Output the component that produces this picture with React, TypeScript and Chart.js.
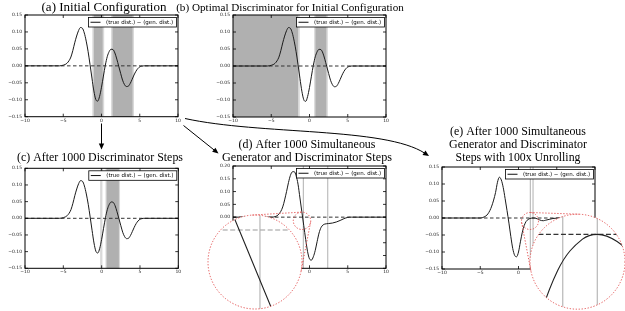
import React, { useEffect, useRef } from "react";
import { Chart, registerables } from "chart.js";
Chart.register(...registerables);

const W = 625;
const H = 311;
const LEGEND_LABEL = "(true dist.) \u2212 (gen. dist.)";

// ---------- data ----------
const X_INIT = [-10, -5.5, -5, -4.75, -4.5, -4.25, -4, -3.75, -3.5, -3.25, -3, -2.75, -2.5, -2.25, -2, -1.75, -1.5, -1.25, -1, -0.75, -0.5, -0.25, 0, 0.25, 0.5, 0.75, 1, 1.25, 1.5, 1.75, 2, 2.25, 2.5, 2.75, 3, 3.25, 3.5, 3.75, 4, 4.25, 4.5, 4.75, 5, 5.25, 5.5, 10];
const Y_INIT = [0, 0, 0.002, 0.004, 0.008, 0.015, 0.026, 0.045, 0.068, 0.088, 0.104, 0.113, 0.111, 0.097, 0.073, 0.042, 0.004, -0.036, -0.074, -0.099, -0.104, -0.09, -0.063, -0.03, 0.002, 0.027, 0.042, 0.049, 0.048, 0.038, 0.02, -0.001, -0.022, -0.042, -0.055, -0.061, -0.06, -0.052, -0.04, -0.027, -0.016, -0.008, -0.003, -0.001, 0, 0];

const X_D = [-10, -5, -4.5, -4, -3.5, -3, -2.75, -2.5, -2.25, -2, -1.75, -1.5, -1.25, -1, -0.75, -0.5, -0.25, 0, 0.25, 0.5, 0.75, 1, 1.25, 1.5, 1.75, 2, 2.5, 3, 3.5, 4, 4.5, 5, 5.5, 10];
const Y_D = [0, 0, 0.002, 0.012, 0.04, 0.1, 0.135, 0.163, 0.177, 0.178, 0.162, 0.129, 0.075, 0.021, -0.033, -0.087, -0.135, -0.163, -0.168, -0.155, -0.13, -0.095, -0.062, -0.041, -0.031, -0.027, -0.025, -0.023, -0.019, -0.013, -0.006, -0.001, 0, 0];

const X_E = [-10, -5, -4.5, -4, -3.5, -3, -2.75, -2.5, -2.25, -2, -1.75, -1.5, -1.25, -1, -0.75, -0.5, -0.25, 0, 0.25, 0.5, 0.75, 1, 1.25, 1.5, 1.75, 1.9, 2.1, 2.25, 2.5, 2.75, 3, 3.25, 3.5, 4, 4.5, 5, 5.5, 10];
const Y_E = [0, 0, 0.003, 0.012, 0.035, 0.075, 0.105, 0.12, 0.112, 0.09, 0.057, 0.022, -0.015, -0.055, -0.09, -0.11, -0.114, -0.1, -0.07, -0.042, -0.022, -0.01, -0.0045, -0.0015, -0.0002, 0, -0.0003, -0.0009, -0.0028, -0.0055, -0.0075, -0.008, -0.0068, -0.004, -0.0015, -0.0004, 0, 0];

const X_TICKS = [-10, -5, 0, 5, 10];
const Y_TICKS_15 = [-0.15, -0.1, -0.05, 0, 0.05, 0.1, 0.15];
const Y_TICKS_20 = [-0.2, -0.15, -0.1, -0.05, 0, 0.05, 0.1, 0.15, 0.2];

// discriminator regions
const DARK_A = [[-1.0, 0.15], [1.45, 4.05]];
const LIGHT_A = [[-1.2, 0.35], [1.25, 4.25]];
const DARK_B = [[-10, -1.5], [0.78, 2.2]];
const LIGHT_B = [[-10, -1.27], [0.6, 2.4]];
const DARK_C = [[0.65, 2.25]];
const LIGHT_C = [[-0.2, 0.1], [0.5, 2.4]];
const VLINES_D = [-0.8, 2.38];
const VLINES_E = [1.55, 1.9];

// zoom windows of the magnified insets
const INSET_D_X = [-1.057, -0.592];
const INSET_D_Y = [-0.0349, 0.0066];
const INSET_E_X = [1.219, 2.18];
const INSET_E_Y = [-0.00312, 0.00084];

const DARK = "#b0b0b0";
const LIGHT = "#d9d9d9";
const VLINE = "#bdbdbd";
const RED = "rgba(225,70,70,0.9)";
const TICK_FONT = '4.5px "DejaVu Sans"';

type Panel = {
  area: number[];
  yMax: number;
  yTicks: number[];
  xs: number[];
  ys: number[];
  dark: number[][];
  light: number[][];
  vlines: number[];
  title: string[];
  titleW: number[];
  titleX: number;
  titleY: number[];
};

const PANELS: Panel[] = [
  { area: [25, 15, 178, 116.7], yMax: 0.15, yTicks: Y_TICKS_15, xs: X_INIT, ys: Y_INIT, dark: DARK_A, light: LIGHT_A, vlines: [], title: ["(a) Initial Configuration"], titleW: [125], titleX: 104, titleY: [11] },
  { area: [233, 15, 386, 117], yMax: 0.15, yTicks: Y_TICKS_15, xs: X_INIT, ys: Y_INIT, dark: DARK_B, light: LIGHT_B, vlines: [], title: ["(b) Optimal Discriminator for Initial Configuration"], titleW: [228], titleX: 290, titleY: [11] },
  { area: [25, 168.3, 178.3, 268.3], yMax: 0.15, yTicks: Y_TICKS_15, xs: X_INIT, ys: Y_INIT, dark: DARK_C, light: LIGHT_C, vlines: [], title: ["(c) After 1000 Discriminator Steps"], titleW: [166], titleX: 100, titleY: [160.5] },
  { area: [233, 166, 386, 268.3], yMax: 0.2, yTicks: Y_TICKS_20, xs: X_D, ys: Y_D, dark: [], light: [], vlines: VLINES_D, title: ["(d) After 1000 Simultaneous", "Generator and Discriminator Steps"], titleW: [137, 170], titleX: 307, titleY: [148, 160.5] },
  { area: [442, 167, 595, 269], yMax: 0.15, yTicks: Y_TICKS_15, xs: X_E, ys: Y_E, dark: [], light: [], vlines: VLINES_E, title: ["(e) After 1000 Simultaneous", "Generator and Discriminator", "Steps with 100x Unrolling"], titleW: [136, 138, 125], titleX: 518, titleY: [135.3, 148, 160.5] },
];

type Circle = { cx: number; cy: number; r: number };
type Inset = {
  panel: number;
  big: Circle;
  small: Circle;
  xWin: number[];
  yWin: number[];
  dashColor: string;
};

const INSETS: Inset[] = [
  { panel: 3, big: { cx: 255, cy: 262, r: 47 }, small: { cx: 302, cy: 220.8, r: 8.7 }, xWin: INSET_D_X, yWin: INSET_D_Y, dashColor: "#9a9a9a" },
  { panel: 4, big: { cx: 577.5, cy: 261.7, r: 47.5 }, small: { cx: 530, cy: 221, r: 8.5 }, xWin: INSET_E_X, yWin: INSET_E_Y, dashColor: "#333" },
];

const fmt = (v: number, d: number) => {
  const s = Math.abs(v).toFixed(d);
  return (v < -1e-9 ? "\u2212" : "") + s;
};

function toPoints(xs: number[], ys: number[]) {
  return xs.map((x, i) => ({ x, y: ys[i] }));
}

function arrowHead(ctx: CanvasRenderingContext2D, tx: number, ty: number, ang: number) {
  const L = 6, Wd = 2.7;
  const c = Math.cos(ang), s = Math.sin(ang);
  ctx.beginPath();
  ctx.moveTo(tx, ty);
  ctx.lineTo(tx - L * c + Wd * s, ty - L * s - Wd * c);
  ctx.lineTo(tx - L * c - Wd * s, ty - L * s + Wd * c);
  ctx.closePath();
  ctx.fill();
}

function drawArrows(ctx: CanvasRenderingContext2D) {
  ctx.save();
  ctx.strokeStyle = "#000";
  ctx.fillStyle = "#000";
  ctx.lineWidth = 1;
  // a -> c
  ctx.beginPath();
  ctx.moveTo(101.5, 123.5);
  ctx.lineTo(101.5, 144);
  ctx.stroke();
  arrowHead(ctx, 101.5, 149.5, Math.PI / 2);
  // a -> d
  const s0 = [183.5, 125.5], t0 = [218.5, 153.5];
  const ang = Math.atan2(t0[1] - s0[1], t0[0] - s0[0]);
  ctx.beginPath();
  ctx.moveTo(s0[0], s0[1]);
  ctx.lineTo(t0[0] - 5 * Math.cos(ang), t0[1] - 5 * Math.sin(ang));
  ctx.stroke();
  arrowHead(ctx, t0[0], t0[1], ang);
  // a -> e (curved)
  const P0 = [185, 118.5], P1 = [260, 135], P2 = [385, 127], P3 = [429, 156];
  const ang2 = Math.atan2(P3[1] - P2[1], P3[0] - P2[0]);
  const end = [P3[0] - 5 * Math.cos(ang2), P3[1] - 5 * Math.sin(ang2)];
  ctx.beginPath();
  ctx.moveTo(P0[0], P0[1]);
  ctx.bezierCurveTo(P1[0], P1[1], P2[0], P2[1], end[0], end[1]);
  ctx.stroke();
  arrowHead(ctx, P3[0], P3[1], ang2);
  ctx.restore();
}

function makeMain(canvas: HTMLCanvasElement, p: Panel, idx: number) {
  const [L, T, R, B] = p.area;
  const covers = INSETS.filter((s) => s.panel === idx).map((s) => s.big);
  const hidden = (px: number, py: number) => covers.some((c) => Math.hypot(px - c.cx, py - c.cy) < c.r);
  const deco = {
    id: "deco",
    beforeDatasetsDraw(chart: any) {
      const { ctx, chartArea: a, scales } = chart;
      const x = scales.x;
      ctx.save();
      const band = (r: number[], color: string) => {
        const x0 = Math.max(a.left, x.getPixelForValue(r[0]));
        const x1 = Math.min(a.right, x.getPixelForValue(r[1]));
        ctx.fillStyle = color;
        ctx.fillRect(x0, a.top, x1 - x0, a.bottom - a.top);
      };
      p.light.forEach((r) => band(r, LIGHT));
      p.dark.forEach((r) => band(r, DARK));
      ctx.strokeStyle = VLINE;
      ctx.lineWidth = 1.2;
      p.vlines.forEach((v) => {
        const px = x.getPixelForValue(v);
        ctx.beginPath();
        ctx.moveTo(px, a.top);
        ctx.lineTo(px, a.bottom);
        ctx.stroke();
      });
      ctx.restore();
    },
    afterDatasetsDraw(chart: any) {
      const { ctx, chartArea: a, scales } = chart;
      ctx.save();
      ctx.strokeStyle = "#000";
      ctx.lineWidth = 1;
      ctx.strokeRect(a.left, a.top, a.right - a.left, a.bottom - a.top);
      ctx.lineWidth = 0.8;
      ctx.beginPath();
      X_TICKS.forEach((v) => {
        const px = scales.x.getPixelForValue(v);
        ctx.moveTo(px, a.bottom);
        ctx.lineTo(px, a.bottom - 3);
        ctx.moveTo(px, a.top);
        ctx.lineTo(px, a.top + 3);
      });
      p.yTicks.forEach((v) => {
        const py = scales.y.getPixelForValue(v);
        ctx.moveTo(a.left, py);
        ctx.lineTo(a.left + 3, py);
        ctx.moveTo(a.right, py);
        ctx.lineTo(a.right - 3, py);
      });
      ctx.stroke();
      // tick labels
      ctx.fillStyle = "#222";
      ctx.font = TICK_FONT;
      ctx.textAlign = "center";
      ctx.textBaseline = "top";
      X_TICKS.forEach((v) => {
        const px = scales.x.getPixelForValue(v);
        if (hidden(px, a.bottom + 3)) return;
        ctx.fillText(fmt(v, 0), px, a.bottom + 1.7);
      });
      ctx.textAlign = "right";
      ctx.textBaseline = "middle";
      p.yTicks.forEach((v) => {
        const py = scales.y.getPixelForValue(v);
        if (hidden(a.left - 3, py)) return;
        ctx.fillText(fmt(v, 2), a.left - 3, py);
      });
      // legend
      const lw = 88, lh = 9.5;
      const lx = a.right - 1.5 - lw, ly = a.top + 2.5;
      ctx.fillStyle = "#fff";
      ctx.fillRect(lx, ly, lw, lh);
      ctx.strokeStyle = "#000";
      ctx.lineWidth = 0.8;
      ctx.strokeRect(lx, ly, lw, lh);
      ctx.lineWidth = 1;
      ctx.strokeStyle = "#111";
      ctx.beginPath();
      ctx.moveTo(lx + 2, ly + lh / 2);
      ctx.lineTo(lx + 12, ly + lh / 2);
      ctx.stroke();
      ctx.fillStyle = "#000";
      ctx.font = '5.5px "DejaVu Sans"';
      ctx.textAlign = "left";
      ctx.textBaseline = "middle";
      ctx.fillText(chart.data.datasets[0].label, lx + 17.5, ly + lh / 2 + 0.3);
      ctx.restore();
    },
    afterDraw(chart: any) {
      const ctx = chart.ctx;
      ctx.save();
      ctx.fillStyle = "#000";
      ctx.textAlign = "center";
      ctx.textBaseline = "alphabetic";
      p.title.forEach((t, i) => {
        ctx.font = '12px "Liberation Serif"';
        const m = ctx.measureText(t).width;
        const size = Math.max(10.5, Math.min(13.5, (12 * p.titleW[i]) / m));
        ctx.font = `${size.toFixed(2)}px "Liberation Serif"`;
        ctx.fillText(t, p.titleX, p.titleY[i]);
      });
      ctx.restore();
      if (idx === 0) drawArrows(ctx);
    },
  };
  return new Chart(canvas, {
    type: "line",
    data: {
      datasets: [
        { label: LEGEND_LABEL, data: toPoints(p.xs, p.ys), borderColor: "#1a1a1a", borderWidth: 1, pointRadius: 0, cubicInterpolationMode: "monotone", fill: false },
        { label: "zero", data: [{ x: -10, y: 0 }, { x: 10, y: 0 }], borderColor: "#333", borderWidth: 1, borderDash: [3.5, 2.5], pointRadius: 0, fill: false },
      ],
    },
    options: {
      animation: false,
      responsive: false,
      maintainAspectRatio: false,
      devicePixelRatio: 1,
      events: [],
      layout: { padding: { left: L, top: T, right: W - R, bottom: H - B } },
      plugins: { legend: { display: false }, tooltip: { enabled: false }, title: { display: false } },
      scales: {
        x: {
          type: "linear",
          min: -10,
          max: 10,
          afterFit: (s: any) => { s.height = 0; },
          afterBuildTicks: (s: any) => { s.ticks = X_TICKS.map((v) => ({ value: v })); },
          grid: { display: false },
          border: { display: false },
          ticks: { display: false },
        },
        y: {
          type: "linear",
          min: -p.yMax,
          max: p.yMax,
          afterFit: (s: any) => { s.width = 0; },
          afterBuildTicks: (s: any) => { s.ticks = p.yTicks.map((v) => ({ value: v })); },
          grid: { display: false },
          border: { display: false },
          ticks: { display: false },
        },
      },
    } as any,
    plugins: [deco as any],
  });
}

function tangents(c1: Circle, c2: Circle) {
  const dx = c2.cx - c1.cx, dy = c2.cy - c1.cy;
  const d = Math.hypot(dx, dy);
  const ux = dx / d, uy = dy / d;
  const px = -uy, py = ux;
  const cs = (c1.r - c2.r) / d;
  const sn = Math.sqrt(Math.max(0, 1 - cs * cs));
  return [1, -1].map((sg) => {
    const nx = cs * ux + sg * sn * px;
    const ny = cs * uy + sg * sn * py;
    return [c1.cx + c1.r * nx, c1.cy + c1.r * ny, c2.cx + c2.r * nx, c2.cy + c2.r * ny];
  });
}

function makeInset(canvas: HTMLCanvasElement, s: Inset) {
  const p = PANELS[s.panel];
  const { cx, cy, r } = s.big;
  const deco = {
    id: "insetDeco",
    beforeDatasetsDraw(chart: any) {
      const { ctx, chartArea: a, scales } = chart;
      ctx.save();
      ctx.beginPath();
      ctx.arc(cx, cy, r, 0, Math.PI * 2);
      ctx.fillStyle = "#fff";
      ctx.fill();
      ctx.clip();
      ctx.strokeStyle = VLINE;
      ctx.lineWidth = 1.3;
      p.vlines.forEach((v) => {
        const px = scales.x.getPixelForValue(v);
        ctx.beginPath();
        ctx.moveTo(px, a.top);
        ctx.lineTo(px, a.bottom);
        ctx.stroke();
      });
    },
    afterDatasetsDraw(chart: any) {
      const ctx = chart.ctx;
      ctx.restore();
      ctx.save();
      ctx.strokeStyle = RED;
      ctx.lineWidth = 1;
      ctx.setLineDash([1.3, 1.7]);
      ctx.beginPath();
      ctx.arc(cx, cy, r, 0, Math.PI * 2);
      ctx.stroke();
      ctx.beginPath();
      ctx.arc(s.small.cx, s.small.cy, s.small.r, 0, Math.PI * 2);
      ctx.stroke();
      tangents(s.small, s.big).forEach((t) => {
        ctx.beginPath();
        ctx.moveTo(t[0], t[1]);
        ctx.lineTo(t[2], t[3]);
        ctx.stroke();
      });
      ctx.restore();
    },
  };
  return new Chart(canvas, {
    type: "line",
    data: {
      datasets: [
        { label: LEGEND_LABEL, data: toPoints(p.xs, p.ys), borderColor: "#222", borderWidth: 1.1, pointRadius: 0, cubicInterpolationMode: "monotone", fill: false },
        { label: "zero", data: [{ x: -10, y: 0 }, { x: 10, y: 0 }], borderColor: s.dashColor, borderWidth: 1.1, borderDash: [5, 2.5], pointRadius: 0, fill: false },
      ],
    },
    options: {
      animation: false,
      responsive: false,
      maintainAspectRatio: false,
      devicePixelRatio: 1,
      events: [],
      layout: { padding: { left: cx - r, top: cy - r, right: Math.max(0, W - (cx + r)), bottom: Math.max(0, H - (cy + r)) } },
      plugins: { legend: { display: false }, tooltip: { enabled: false }, title: { display: false } },
      scales: {
        x: { type: "linear", display: false, min: s.xWin[0], max: s.xWin[1] },
        y: { type: "linear", display: false, min: s.yWin[0], max: s.yWin[1] },
      },
    } as any,
    plugins: [deco as any],
  });
}

export default function App() {
  const refs = useRef<(HTMLCanvasElement | null)[]>([]);
  useEffect(() => {
    const charts: Chart[] = [];
    PANELS.forEach((p, i) => {
      const c = refs.current[i];
      if (c) charts.push(makeMain(c, p, i));
    });
    INSETS.forEach((s, j) => {
      const c = refs.current[PANELS.length + j];
      if (c) charts.push(makeInset(c, s));
    });
    return () => charts.forEach((c) => c.destroy());
  }, []);
  const n = PANELS.length + INSETS.length;
  return (
    <div style={{ position: "fixed", left: 0, top: 0, width: W, height: H, background: "#fff", overflow: "hidden" }}>
      {Array.from({ length: n }).map((_, i) => (
        <canvas
          key={i}
          ref={(el) => { refs.current[i] = el; }}
          width={W}
          height={H}
          style={{ position: "absolute", left: 0, top: 0, width: W, height: H, pointerEvents: "none" }}
        />
      ))}
    </div>
  );
}
